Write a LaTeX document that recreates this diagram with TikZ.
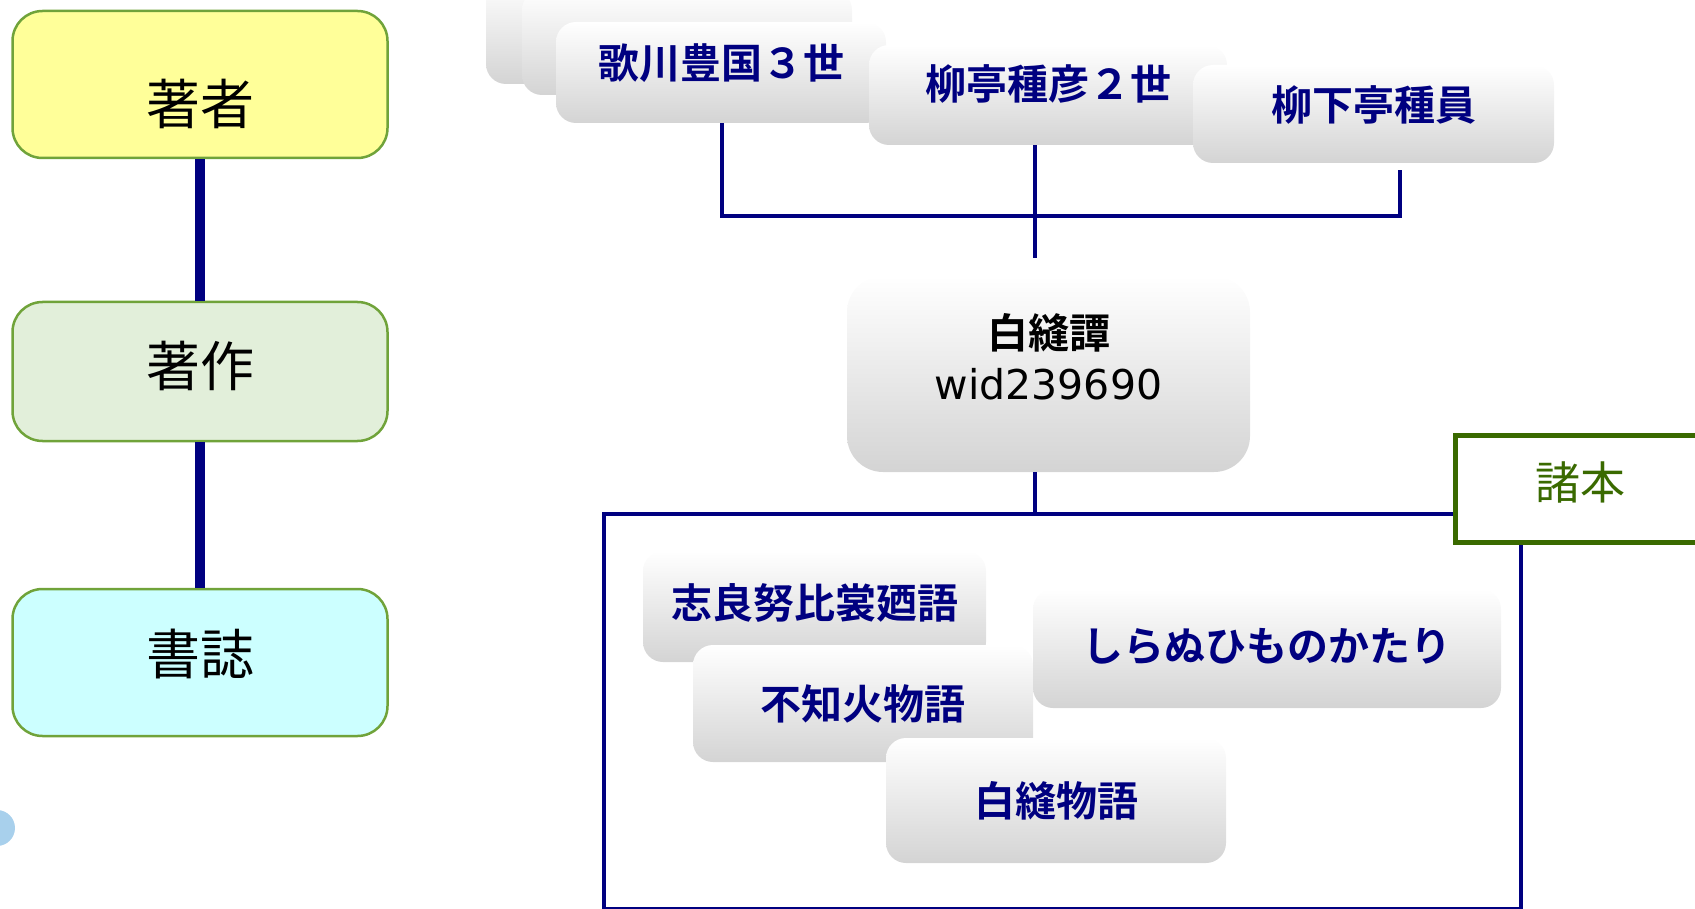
\documentclass[tikz,border=0pt]{standalone}
\usepackage{fontspec}
\newfontfamily\cjk{Noto Sans CJK JP}[BoldFont={Noto Sans CJK JP Bold}]
\newfontfamily\dvs{DejaVu Sans}
\definecolor{navyc}{RGB}{0,0,128}
\definecolor{edgegreen}{RGB}{112,163,58}
\definecolor{ylw}{RGB}{255,255,153}
\definecolor{lgreen}{RGB}{226,239,218}
\definecolor{lcyan}{RGB}{204,255,255}
\definecolor{dgreen}{RGB}{58,106,0}
\definecolor{dotblue}{RGB}{168,208,236}
\newcommand{\rb}[2]{\raisebox{#1}[\height][\depth]{#2}}
\tikzset{
  leftbox/.style={draw=edgegreen, line width=2.5pt, rounded corners=30pt, minimum width=375pt, font=\cjk\fontsize{54}{60}\selectfont, text=black},
  gbox/.style={rounded corners=20pt, top color=white, middle color=white, bottom color=black!17, text=navyc, font=\cjk\bfseries\fontsize{41}{48}\selectfont, inner sep=0pt},
  thickline/.style={draw=navyc, line width=10pt},
  thinline/.style={draw=navyc, line width=4pt},
}
\begin{document}
\begin{tikzpicture}[x=1pt,y=-1pt]
\useasboundingbox (0,0) rectangle (1695,909);
% left legend
\node[circle, fill=dotblue, minimum size=36pt, inner sep=0pt] (dot) at (-3,828) {};
\node[leftbox, fill=ylw, minimum height=147pt] (chosha) at (200,84.5) {\rb{-19pt}{著者}};
\node[leftbox, fill=lgreen, minimum height=139pt] (chosaku) at (200,371.5) {\rb{6pt}{著作}};
\node[leftbox, fill=lcyan, minimum height=147pt] (shoshi) at (200,662.5) {\rb{8pt}{書誌}};
\draw[thickline] (chosha) -- (chosaku);
\draw[thickline] (chosaku) -- (shoshi);
% top author nodes
\node[gbox, minimum width=330pt, minimum height=104pt] (shA) at (651,32) {};
\node[gbox, minimum width=330pt, minimum height=105pt] (shB) at (687,42.5) {};
\node[gbox, minimum width=330pt, minimum height=101pt] (uta) at (721,72.5) {\rb{9.5pt}{歌川豊国３世}};
\node[gbox, minimum width=358pt, minimum height=100pt] (tane) at (1048,95) {\rb{11pt}{柳亭種彦２世}};
\node[gbox, minimum width=361pt, minimum height=98pt] (kan) at (1373.5,114) {\rb{9pt}{柳下亭種員}};
% work node
\node[gbox, rounded corners=36pt, minimum width=403pt, minimum height=196pt, text=black] (tan) at (1048.5,374)
  {\rb{10pt}{\fontsize{41}{51}\selectfont\begin{tabular}{@{}c@{}}白縫譚\\ {\dvs\mdseries wid239690}\end{tabular}}};
% connectors top
\coordinate (bus) at (1035,216);
\coordinate (kanS) at (1400,170);
\coordinate (tanTop) at ([yshift=18pt]tan.north);
\draw[thinline] ([xshift=1pt]uta.south) |- (bus) -| (kanS);
\draw[thinline] ([xshift=-13pt]tane.south) -- ([xshift=-13pt]tane.south |- tanTop);
% big box of variants
\node[draw=navyc, line width=4pt, minimum width=917pt, minimum height=395pt, anchor=north west, inner sep=0pt] (bigbox) at (602,512) {};
\draw[thinline] ([xshift=-14pt]tan.south) -- ([xshift=-14pt]tan.south |- bigbox.north);
\node[draw=dgreen, line width=5pt, fill=white, minimum width=250pt, minimum height=107pt, anchor=north west, inner sep=0pt, text=dgreen, font=\cjk\fontsize{45}{50}\selectfont] (shohon) at (1453,433) {\rb{7pt}{諸本}};
% variant nodes
\node[gbox, minimum width=343pt, minimum height=111pt] (v1) at (814.5,606.5) {\rb{4pt}{志良努比裳廼語}};
\node[gbox, minimum width=340pt, minimum height=117pt] (v2) at (863,703.5) {不知火物語};
\node[gbox, minimum width=468pt, minimum height=119pt] (v3) at (1267,648.5) {\rb{2pt}{しらぬひものかたり}};
\node[gbox, minimum width=340pt, minimum height=125pt] (v4) at (1056,800.5) {白縫物語};
\end{tikzpicture}
\end{document}
